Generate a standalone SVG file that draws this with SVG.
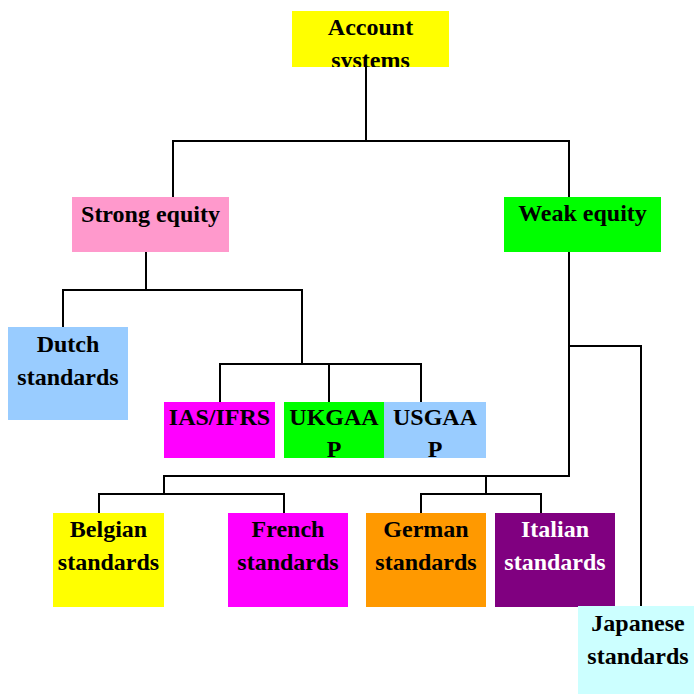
<svg xmlns="http://www.w3.org/2000/svg" width="694" height="694" viewBox="0 0 694 694">
<style>
.c{fill:none;stroke:#000;stroke-width:2}
text{font-family:"Liberation Serif","Times New Roman",serif;font-weight:bold;font-size:24px;text-anchor:middle;fill:#000}
.w{fill:#fff}
</style>
<defs>
<clipPath id="clipAcc"><rect x="292" y="11" width="157" height="56"/></clipPath>
<clipPath id="clipUK"><rect x="284" y="402" width="100" height="56"/></clipPath>
<clipPath id="clipUS"><rect x="384" y="402" width="102" height="56"/></clipPath>
</defs>
<rect width="694" height="694" fill="#fff"/>
<g id="connectors">
<path class="c" d="M366 67V141M173 197V141H569V197"/>
<path class="c" d="M146 252V290M63 327V290H302V364M220 402V364H421V402M329 364V402"/>
<path class="c" d="M569 252V476H164V494M99 513V494H284V513"/>
<path class="c" d="M486 476V494M421 513V494H541V513"/>
<path class="c" d="M569 346H641V606"/>
</g>
<g id="account">
<rect x="292" y="11" width="157" height="56" fill="#ffff00"/>
<g clip-path="url(#clipAcc)"><text x="370.5" y="35">Account</text><text x="370.5" y="68">systems</text></g>
</g>
<g id="strong">
<rect x="72" y="197" width="157" height="55" fill="#ff99cc"/>
<text x="150.5" y="222">Strong equity</text>
</g>
<g id="weak">
<rect x="504" y="197" width="157" height="55" fill="#00ff00"/>
<text x="582.5" y="221">Weak equity</text>
</g>
<g id="dutch">
<rect x="8" y="327" width="120" height="93" fill="#99ccff"/>
<text x="68" y="352">Dutch</text><text x="68" y="385">standards</text>
</g>
<g id="ias">
<rect x="164" y="402" width="111" height="56" fill="#ff00ff"/>
<text x="219.5" y="425">IAS/IFRS</text>
</g>
<g id="ukgaap">
<rect x="284" y="402" width="100" height="56" fill="#00ff00"/>
<g clip-path="url(#clipUK)"><text x="334" y="425">UKGAA</text><text x="334" y="457">P</text></g>
</g>
<g id="usgaap">
<rect x="384" y="402" width="102" height="56" fill="#99ccff"/>
<g clip-path="url(#clipUS)"><text x="435" y="425">USGAA</text><text x="435" y="457">P</text></g>
</g>
<g id="belgian">
<rect x="53" y="513" width="111" height="94" fill="#ffff00"/>
<text x="108.5" y="537">Belgian</text><text x="108.5" y="570">standards</text>
</g>
<g id="french">
<rect x="228" y="513" width="120" height="94" fill="#ff00ff"/>
<text x="288" y="537">French</text><text x="288" y="570">standards</text>
</g>
<g id="german">
<rect x="366" y="513" width="120" height="94" fill="#ff9900"/>
<text x="426" y="537">German</text><text x="426" y="570">standards</text>
</g>
<g id="italian">
<rect x="495" y="513" width="120" height="94" fill="#800080"/>
<text class="w" x="555" y="537">Italian</text><text class="w" x="555" y="570">standards</text>
</g>
<g id="japanese">
<rect x="578" y="606" width="120" height="94" fill="#ccffff"/>
<text x="638" y="631">Japanese</text><text x="638" y="664">standards</text>
</g>
</svg>
